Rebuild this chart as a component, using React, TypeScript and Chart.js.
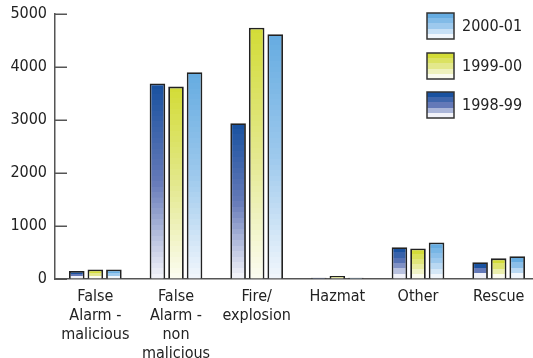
import React, { useEffect, useRef } from "react";
import { Chart, registerables } from "chart.js";

Chart.register(...registerables);

const categories: (string | string[])[] = [
  ["False", "Alarm -", "malicious"],
  ["False", "Alarm -", "non", "malicious"],
  ["Fire/", "explosion"],
  "Hazmat",
  "Other",
  "Rescue",
];

const seriesLabels = ["1998-99", "1999-00", "2000-01"];
const values1998 = [150, 3690, 2940, 25, 600, 315];
const values1999 = [180, 3630, 4740, 55, 575, 390];
const values2000 = [180, 3900, 4620, 25, 690, 430];

const yTicks = [0, 1000, 2000, 3000, 4000, 5000];

// top, middle, bottom colours of each series' banded gradient
const palettes: string[][] = [
  ["#1a52a0", "#6479b8", "#f1f2f9"],
  ["#d3dc38", "#e3e88c", "#fbfcef"],
  ["#66ace1", "#9dc9ed", "#f0f6fc"],
];

const FONT = "'DejaVu Sans Condensed', 'DejaVu Sans', sans-serif";

function hexToRgb(h: string): number[] {
  const n = parseInt(h.slice(1), 16);
  return [(n >> 16) & 255, (n >> 8) & 255, n & 255];
}

function mix(stops: string[], t: number): string {
  const seg = t < 0.5 ? 0 : 1;
  const lt = t < 0.5 ? t * 2 : (t - 0.5) * 2;
  const a = hexToRgb(stops[seg]);
  const b = hexToRgb(stops[seg + 1]);
  const c = a.map((v, i) => Math.round(v + (b[i] - v) * lt));
  return `rgb(${c[0]},${c[1]},${c[2]})`;
}

function bandedGradient(
  ctx: CanvasRenderingContext2D,
  top: number,
  bottom: number,
  stops: string[]
): CanvasGradient {
  const h = Math.max(1, bottom - top);
  const g = ctx.createLinearGradient(0, top, 0, bottom);
  const n = Math.max(3, Math.round(h / 5.5));
  for (let i = 0; i < n; i++) {
    const col = mix(stops, i / (n - 1));
    g.addColorStop(i / n, col);
    g.addColorStop(Math.min(1, (i + 1) / n - 0.0001), col);
  }
  return g;
}

const legendPlugin = {
  id: "boxLegend",
  afterDraw(chart: any) {
    const ctx: CanvasRenderingContext2D = chart.ctx;
    const items = [2, 1, 0];
    const boxX = 427;
    const boxTops = [13, 53, 92];
    ctx.save();
    items.forEach((di, k) => {
      const y = boxTops[k];
      ctx.fillStyle = bandedGradient(ctx, y, y + 26, palettes[di]);
      ctx.fillRect(boxX, y, 27, 26);
      ctx.lineWidth = 1.5;
      ctx.strokeStyle = "#333";
      ctx.strokeRect(boxX, y, 27, 26);
      ctx.fillStyle = "#222";
      ctx.font = `16px ${FONT}`;
      ctx.textBaseline = "middle";
      ctx.textAlign = "left";
      ctx.fillText(seriesLabels[di], 462, y + 14);
    });
    ctx.restore();
  },
};

const inwardTicks = {
  id: "inwardTicks",
  afterDraw(chart: any) {
    const ctx: CanvasRenderingContext2D = chart.ctx;
    const y = chart.scales.y;
    const left = chart.chartArea.left;
    ctx.save();
    ctx.strokeStyle = "#555";
    ctx.lineWidth = 1.5;
    yTicks.forEach((v) => {
      const py = Math.round(y.getPixelForValue(v)) + 0.25;
      ctx.beginPath();
      ctx.moveTo(left, py);
      ctx.lineTo(left + 12, py);
      ctx.stroke();
    });
    ctx.restore();
  },
};

function fillFor(idx: number) {
  return (c: any) => {
    const chart = c.chart;
    if (c.type !== "data" || !chart.chartArea || !chart.scales.y) return palettes[idx][0];
    const ys = chart.scales.y;
    const top = ys.getPixelForValue(c.raw as number);
    const bottom = ys.getPixelForValue(0);
    return bandedGradient(chart.ctx, top, bottom, palettes[idx]);
  };
}

export default function App() {
  const ref = useRef<HTMLCanvasElement | null>(null);

  useEffect(() => {
    if (!ref.current) return;
    const series = [values1998, values1999, values2000];
    const chart = new Chart(ref.current, {
      type: "bar",
      data: {
        labels: categories,
        datasets: series.map((d, i) => ({
          label: seriesLabels[i],
          data: d,
          backgroundColor: fillFor(i),
          borderColor: "#222",
          borderWidth: 1.8,
          borderSkipped: "start",
          categoryPercentage: 0.69,
          barPercentage: 0.84,
        })),
      },
      options: {
        responsive: false,
        animation: false,
        devicePixelRatio: 1,
        layout: { padding: { top: 14, left: 0, right: 0, bottom: 0 } },
        plugins: {
          legend: { display: false },
          tooltip: { enabled: false },
        },
        scales: {
          x: {
            grid: { display: false },
            border: { display: true, color: "#555", width: 1.5 },
            ticks: {
              color: "#222",
              padding: 0,
              maxRotation: 0,
              autoSkip: false,
              font: { family: FONT, size: 16, lineHeight: 1.19 },
            },
            afterFit: (s: any) => {
              s.height = 79;
              s.paddingLeft = 0;
              s.paddingRight = 0;
            },
          },
          y: {
            min: 0,
            max: 5000,
            afterBuildTicks: (s: any) => {
              s.ticks = yTicks.map((v) => ({ value: v }));
            },
            grid: { display: true, drawOnChartArea: false, drawTicks: false },
            border: { display: true, color: "#555", width: 1.5 },
            ticks: {
              color: "#222",
              padding: 8,
              font: { family: FONT, size: 16 },
              callback: (v: any) => String(v),
            },
            afterFit: (s: any) => {
              s.width = 55;
              s.paddingTop = 0;
              s.paddingBottom = 0;
            },
          },
        },
      },
      plugins: [legendPlugin, inwardTicks],
    });
    return () => chart.destroy();
  }, []);

  return (
    <div
      style={{
        position: "fixed",
        left: 0,
        top: 0,
        width: 533,
        height: 358,
        overflow: "hidden",
        background: "#fff",
      }}
    >
      <canvas ref={ref} width={539} height={358} style={{ display: "block" }} />
    </div>
  );
}
